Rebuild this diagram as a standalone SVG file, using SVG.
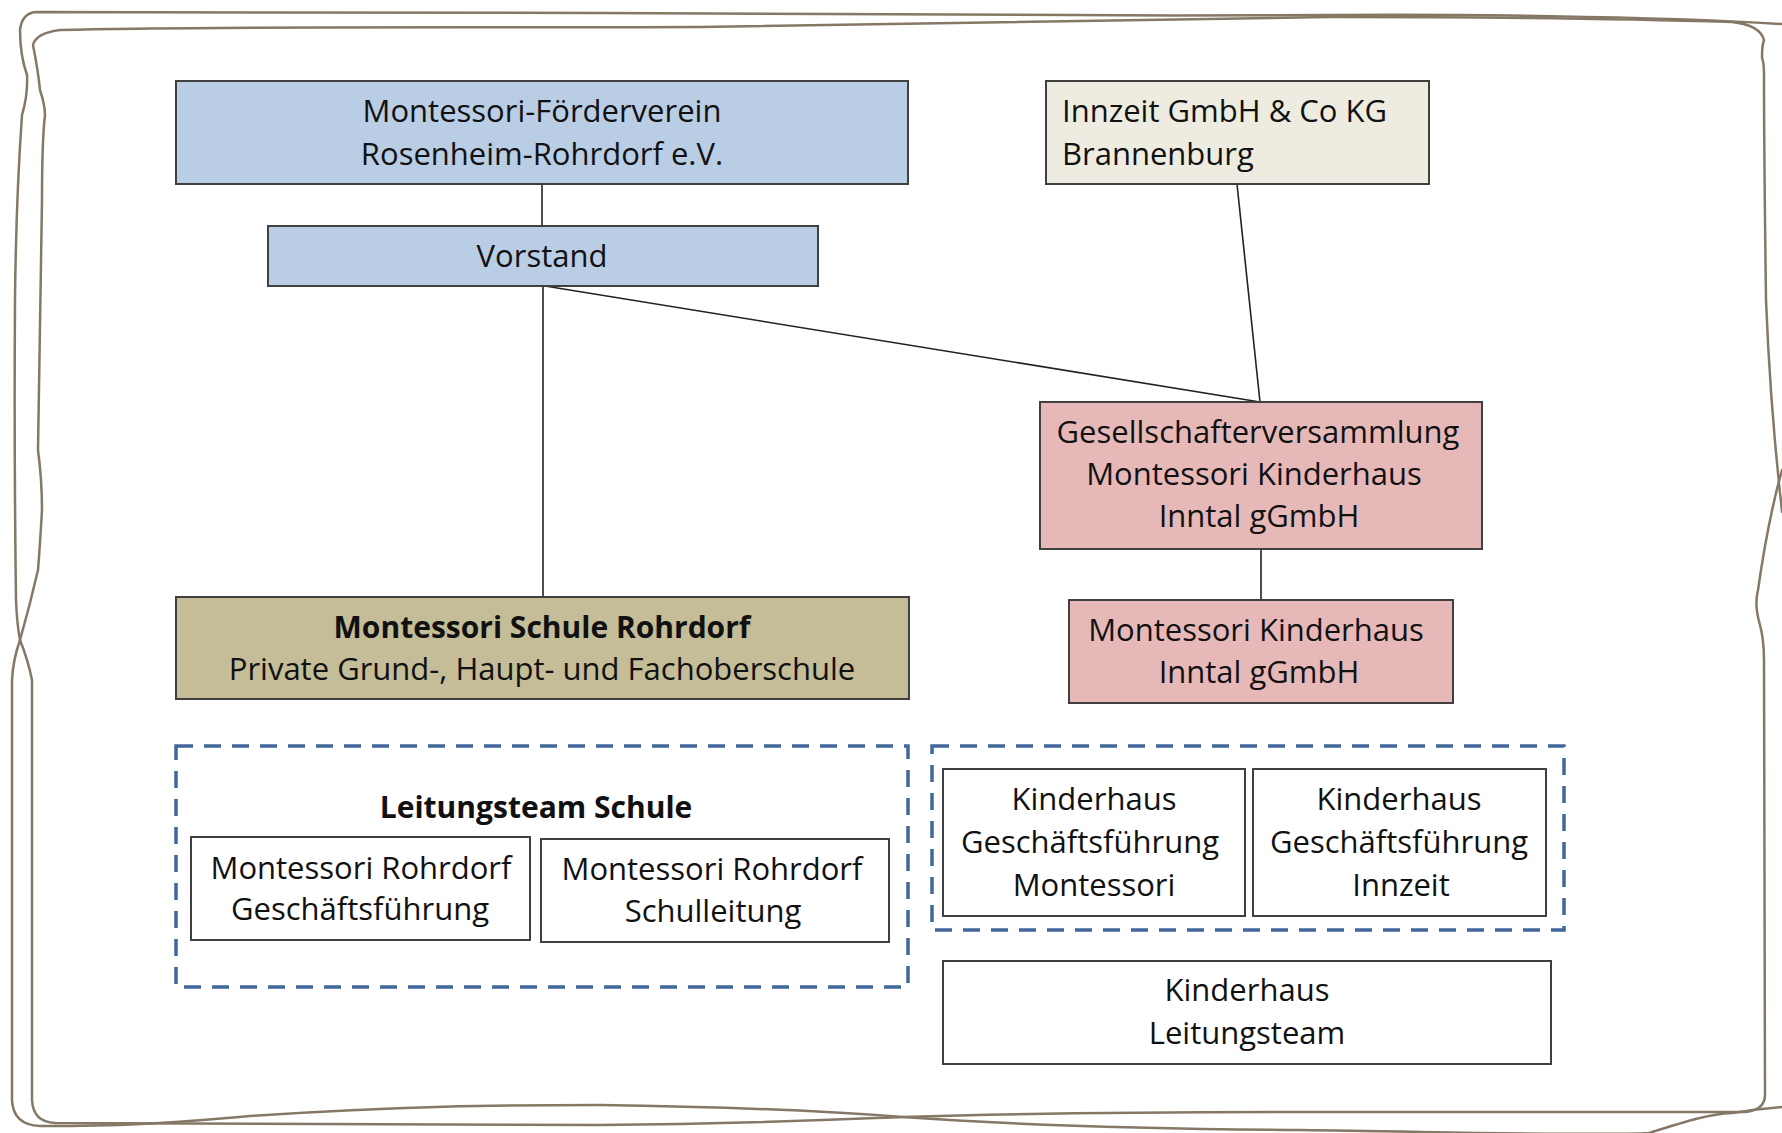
<svg xmlns="http://www.w3.org/2000/svg" width="1782" height="1133" viewBox="0 0 1782 1133">
<style>
text{font-family:"Open Sans","Liberation Sans",sans-serif;font-size:31px;fill:#111;text-anchor:middle}
.b{font-weight:bold;font-size:30px}
.l{text-anchor:start}
.box{stroke:#404040;stroke-width:2}
.frame{fill:none;stroke:#857866;stroke-width:2.5;stroke-linecap:round}
.dash{fill:none;stroke:#42679a;stroke-width:3.5;stroke-dasharray:17 11}
.conn{stroke:#222;stroke-width:1.6;fill:none}
</style>
<rect width="1782" height="1133" fill="#fff"/>
<g id="frame">
<path class="frame" d="M1782,24 C1650,16 1450,14 1330,15 C1100,16 900,15 600,13 C300,11 100,11 36,12 Q22,13 20,30 Q20,55 27,75 Q28,95 22,115 Q16,200 15,300 Q14,450 16,600 Q17,625 20,640 Q28,660 32,680 L32,1100 Q33,1122 55,1123 C200,1123 400,1125 600,1125 C750,1124 850,1119 903,1117 C1000,1114 1150,1112 1300,1112 C1500,1112 1650,1112 1745,1112 Q1765,1110 1765,1095 L1764,660 Q1764,640 1760,625 Q1754,605 1758,590 Q1768,520 1782,470"/>
<path class="frame" d="M1782,512 Q1781,500 1780,493 Q1770,400 1766,300 Q1764,150 1764,75 Q1764,62 1762,58 Q1762,45 1764,40 Q1760,25 1732,22 C1600,18 1450,17 1330,17 C1150,20 950,25 700,27 C450,28 200,26 60,30 Q36,33 33,45 Q38,70 40,90 Q45,105 45,115 Q42,140 42,200 Q40,320 38,450 Q42,480 42,510 Q40,545 38,570 Q30,605 20,640 Q13,660 12,680 L12,1100 Q13,1125 40,1126 C120,1126 160,1124 250,1116 C400,1106 500,1105 600,1105 C750,1107 850,1113 903,1117 C1000,1124 1150,1129 1300,1130 C1450,1132 1600,1136 1649,1133 C1690,1120 1710,1114 1732,1113 C1750,1110 1770,1108 1782,1107"/>
</g>
<g id="connectors">
<line class="conn" x1="542" y1="184" x2="542" y2="226"/>
<line class="conn" x1="543" y1="286" x2="543" y2="597"/>
<line class="conn" x1="545" y1="286" x2="1260" y2="402"/>
<line class="conn" x1="1237" y1="184" x2="1260" y2="402"/>
<line class="conn" x1="1261" y1="549" x2="1261" y2="599"/>
</g>
<g id="foerderverein">
<rect class="box" x="176" y="81" width="732" height="103" fill="#b9cde5"/>
<text x="542" y="122">Montessori-Förderverein</text>
<text x="542" y="165">Rosenheim-Rohrdorf e.V.</text>
</g>
<g id="vorstand">
<rect class="box" x="268" y="226" width="550" height="60" fill="#b9cde5"/>
<text x="542" y="267">Vorstand</text>
</g>
<g id="innzeit">
<rect class="box" x="1046" y="81" width="383" height="103" fill="#eeece1"/>
<text class="l" x="1062" y="122">Innzeit GmbH &amp; Co KG</text>
<text class="l" x="1062" y="165">Brannenburg</text>
</g>
<g id="gesellschafterversammlung">
<rect class="box" x="1040" y="402" width="442" height="147" fill="#e6b9b8"/>
<text x="1258" y="443">Gesellschafterversammlung</text>
<text x="1254" y="485">Montessori Kinderhaus</text>
<text x="1259" y="527">Inntal gGmbH</text>
</g>
<g id="kinderhaus-inntal">
<rect class="box" x="1069" y="600" width="384" height="103" fill="#e6b9b8"/>
<text x="1256" y="641">Montessori Kinderhaus</text>
<text x="1259" y="683">Inntal gGmbH</text>
</g>
<g id="schule">
<rect class="box" x="176" y="597" width="733" height="102" fill="#c4bd97"/>
<text class="b" x="542" y="638">Montessori Schule Rohrdorf</text>
<text x="542" y="680">Private Grund-, Haupt- und Fachoberschule</text>
</g>
<g id="leitungsteam-schule">
<rect class="dash" x="176" y="746" width="732" height="241"/>
<text class="b" x="536" y="818">Leitungsteam Schule</text>
</g>
<g id="schule-gf">
<rect class="box" x="191" y="837" width="339" height="103" fill="#fff"/>
<text x="361" y="879">Montessori Rohrdorf</text>
<text x="360" y="920">Geschäftsführung</text>
</g>
<g id="schulleitung">
<rect class="box" x="541" y="839" width="348" height="103" fill="#fff"/>
<text x="712" y="880">Montessori Rohrdorf</text>
<text x="713" y="922">Schulleitung</text>
</g>
<g id="kinderhaus-gf-group">
<rect class="dash" x="932" y="746" width="632" height="184"/>
</g>
<g id="kh-gf-montessori">
<rect class="box" x="943" y="769" width="302" height="147" fill="#fff"/>
<text x="1094" y="810">Kinderhaus</text>
<text x="1090" y="853">Geschäftsführung</text>
<text x="1094" y="896">Montessori</text>
</g>
<g id="kh-gf-innzeit">
<rect class="box" x="1253" y="769" width="293" height="147" fill="#fff"/>
<text x="1399" y="810">Kinderhaus</text>
<text x="1399" y="853">Geschäftsführung</text>
<text x="1401" y="896">Innzeit</text>
</g>
<g id="kh-leitungsteam">
<rect class="box" x="943" y="961" width="608" height="103" fill="#fff"/>
<text x="1247" y="1001">Kinderhaus</text>
<text x="1247" y="1044">Leitungsteam</text>
</g>
</svg>
